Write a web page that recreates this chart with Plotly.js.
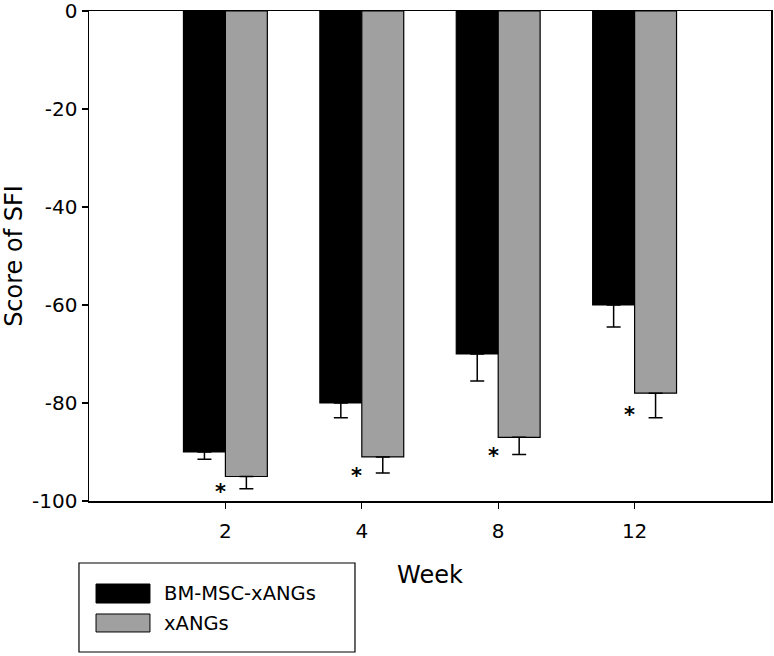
<!DOCTYPE html>
<html>
<head>
<meta charset="utf-8">
<script src="https://cdn.plot.ly/plotly-3.0.1.min.js"></script>
<style>html,body{margin:0;padding:0;background:#fff;}#chart{width:774px;height:656px;}</style>
</head>
<body>
<div id="chart"></div>
<script>
// Data
var weeks = ["2", "4", "8", "12"];
var seriesNames = ["BM-MSC-xANGs", "xANGs"];
var bmMscValues = [-90, -80, -70, -60];
var bmMscErrors = [1.5, 3, 5.5, 4.5];
var xangsValues = [-95, -91, -87, -78];
var xangsErrors = [2.5, 3.3, 3.5, 5];
var starY = [-97, -93.7, -89.6, -81.2];
var yTicks = [0, -20, -40, -60, -80, -100];

var font = "DejaVu Sans, Arial, sans-serif";

function zeros(n){ var a=[]; for(var i=0;i<n;i++) a.push(0); return a; }

var traces = [
  {
    type: "bar", name: seriesNames[0], x: weeks, y: bmMscValues,
    marker: {color: "#000000", line: {color: "#000000", width: 1.2}},
    error_y: {type: "data", symmetric: false, array: zeros(weeks.length), arrayminus: bmMscErrors,
              color: "#000000", thickness: 1.5, width: 7},
    showlegend: false, hoverinfo: "skip"
  },
  {
    type: "bar", name: seriesNames[1], x: weeks, y: xangsValues,
    marker: {color: "#a0a0a0", line: {color: "#000000", width: 1.2}},
    error_y: {type: "data", symmetric: false, array: zeros(weeks.length), arrayminus: xangsErrors,
              color: "#000000", thickness: 1.5, width: 7},
    showlegend: false, hoverinfo: "skip"
  }
];

// significance asterisks, placed by category index
var annotations = weeks.map(function(w, i){
  return {x: i, y: starY[i], xref: "x", yref: "y", text: "<b>*</b>", showarrow: false,
          xshift: -5, yshift: -6, font: {family: font, size: 21, color: "#000"}};
});

// custom legend (large swatches as in the reference)
var shapes = [
  {type: "rect", xref: "paper", yref: "paper", x0: -0.0147, x1: 0.3900, y0: -0.3082, y1: -0.1265,
   line: {color: "#000", width: 1.2}, fillcolor: "rgba(0,0,0,0)"},
  {type: "rect", xref: "paper", yref: "paper", x0: 0.0103, x1: 0.0894, y0: -0.2082, y1: -0.1694,
   line: {color: "#000", width: 1}, fillcolor: "#000000"},
  {type: "rect", xref: "paper", yref: "paper", x0: 0.0103, x1: 0.0894, y0: -0.2673, y1: -0.2306,
   line: {color: "#000", width: 1}, fillcolor: "#a0a0a0"}
];
annotations.push({xref: "paper", yref: "paper", x: 0.1070, y: -0.1888, xanchor: "left", yanchor: "middle",
  text: seriesNames[0], showarrow: false, font: {family: font, size: 19.5, color: "#000"}});
annotations.push({xref: "paper", yref: "paper", x: 0.1070, y: -0.2490, xanchor: "left", yanchor: "middle",
  text: seriesNames[1], showarrow: false, font: {family: font, size: 19.5, color: "#000"}});

var layout = {
  width: 774, height: 656,
  margin: {l: 89, r: 3, t: 11, b: 155, pad: 0},
  paper_bgcolor: "#fff", plot_bgcolor: "#fff",
  barmode: "group", bargap: 0.385, bargroupgap: 0,
  font: {family: font, color: "#000"},
  xaxis: {
    type: "category", range: [-1, 4], showgrid: false, zeroline: false,
    showline: true, linecolor: "#000", linewidth: 1.5, mirror: true,
    ticks: "outside", ticklen: 6, tickwidth: 1.2, tickcolor: "#000",
    ticklabelstandoff: 5,
    tickfont: {family: font, size: 20, color: "#000"},
    title: {text: "Week", font: {family: font, size: 24, color: "#000"}, standoff: 24}
  },
  yaxis: {
    range: [-100, 0], tickvals: yTicks, ticktext: yTicks.map(String),
    showgrid: false, zeroline: false,
    showline: true, linecolor: "#000", linewidth: 1.5, mirror: true,
    ticks: "outside", ticklen: 6, tickwidth: 1.2, tickcolor: "#000",
    ticklabeloverflow: "allow",
    tickfont: {family: font, size: 20, color: "#000"},
    title: {text: "Score of SFI", font: {family: font, size: 24, color: "#000"}, standoff: 8}
  },
  shapes: shapes,
  annotations: annotations
};

Plotly.newPlot("chart", traces, layout, {displayModeBar: false, staticPlot: true});
</script>
</body>
</html>
